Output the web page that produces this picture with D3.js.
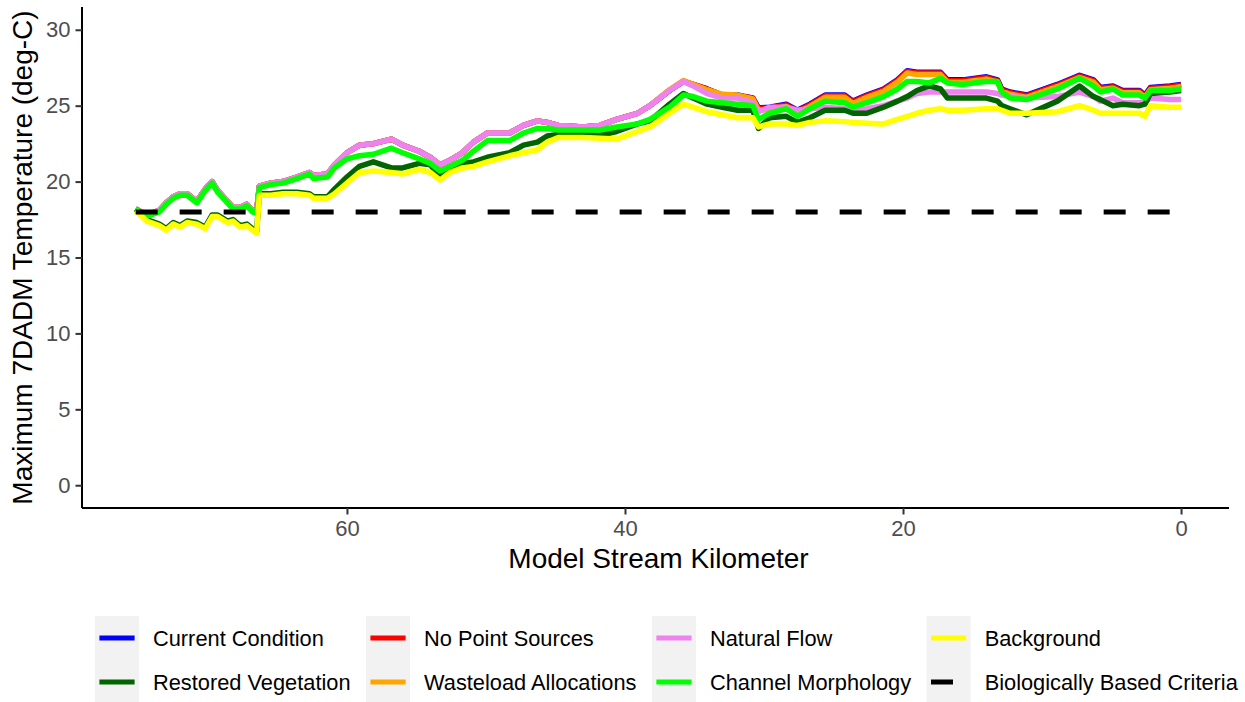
<!DOCTYPE html>
<html>
<head>
<meta charset="utf-8">
<script src="https://cdn.jsdelivr.net/npm/d3@7"></script>
<style>
  body { margin: 0; background: #fff; }
  svg { display: block; font-family: "Liberation Sans", Arial, sans-serif; }
</style>
</head>
<body>
<svg id="chart" width="1245" height="702"></svg>
<script>
// model stream kilometer (upstream -> downstream)
const km = [
  75.2, 74.4, 73.5, 73.0, 72.5, 72.0, 71.5, 70.8, 70.2, 69.7,
  69.3, 68.6, 68.2, 67.7, 67.2, 66.8, 66.5, 66.3, 65.5, 64.6,
  63.6, 62.7, 62.4, 61.4, 60.9, 60.0, 59.1, 58.1, 56.8, 56.0,
  54.8, 54.0, 53.3, 52.6, 51.7, 50.9, 49.9, 48.3, 47.3, 46.3,
  45.6, 44.8, 43.0, 41.8, 40.6, 39.1, 38.2, 36.8, 35.8, 35.1,
  34.1, 33.0, 31.9, 30.8, 30.4, 29.6, 28.4, 27.6, 26.7, 25.6,
  24.2, 23.6, 22.6, 21.4, 20.4, 19.7, 19.0, 18.1, 17.3, 16.8,
  15.7, 14.0, 13.2, 12.9, 12.3, 11.1, 8.9, 7.3, 6.3, 5.8,
  4.9, 4.2, 3.0, 2.6, 2.2, 0.8, 0.0
];

// 7DADM temperatures (deg-C) per scenario
const currentCondition = [
  18.2, 17.8, 18.1, 18.6, 19.0, 19.2, 19.2, 18.7, 19.5, 20.0,
  19.4, 18.7, 18.3, 18.3, 18.5, 18.1, 18.0, 19.7, 19.9, 20.0,
  20.3, 20.6, 20.4, 20.5, 21.1, 21.9, 22.4, 22.5, 22.8, 22.4,
  22.0, 21.6, 21.1, 21.4, 21.9, 22.6, 23.2, 23.2, 23.7, 24.0,
  23.9, 23.7, 23.6, 23.7, 24.1, 24.5, 25.0, 26.0, 26.6, 26.4,
  26.1, 25.7, 25.7, 25.5, 24.85, 24.9, 25.1, 24.7, 25.1, 25.7,
  25.7, 25.3, 25.7, 26.1, 26.7, 27.3, 27.2, 27.2, 27.2, 26.7,
  26.7, 26.9, 26.7, 26.1, 25.9, 25.7, 26.4, 27.0, 26.7, 26.2,
  26.3, 26.0, 26.0, 25.7, 26.2, 26.3, 26.4
];
const noPointSources = [
  18.2, 17.8, 18.1, 18.6, 19.0, 19.2, 19.2, 18.7, 19.5, 20.0,
  19.4, 18.7, 18.3, 18.3, 18.5, 18.1, 18.0, 19.7, 19.9, 20.0,
  20.3, 20.6, 20.4, 20.5, 21.1, 21.9, 22.4, 22.5, 22.8, 22.4,
  22.0, 21.6, 21.1, 21.4, 21.9, 22.6, 23.2, 23.2, 23.7, 24.0,
  23.9, 23.7, 23.6, 23.7, 24.1, 24.5, 25.0, 26.0, 26.6, 26.4,
  26.1, 25.7, 25.65, 25.5, 24.8, 24.85, 25.05, 24.65, 25.05, 25.65,
  25.65, 25.25, 25.65, 26.05, 26.65, 27.25, 27.15, 27.15, 27.15, 26.65,
  26.65, 26.85, 26.65, 26.05, 25.85, 25.65, 26.35, 26.95, 26.65, 26.15,
  26.25, 25.95, 25.95, 25.65, 26.15, 26.25, 26.35
];
const wasteloadAllocations = [
  18.2, 17.8, 18.1, 18.6, 19.0, 19.2, 19.2, 18.7, 19.5, 20.0,
  19.4, 18.7, 18.3, 18.3, 18.5, 18.1, 18.0, 19.7, 19.9, 20.0,
  20.3, 20.6, 20.4, 20.5, 21.1, 21.9, 22.4, 22.5, 22.8, 22.4,
  22.0, 21.6, 21.1, 21.4, 21.9, 22.6, 23.2, 23.2, 23.7, 24.0,
  23.9, 23.7, 23.6, 23.7, 24.1, 24.5, 25.0, 26.05, 26.65, 26.4,
  26.05, 25.75, 25.7, 25.45, 24.7, 24.75, 24.95, 24.55, 24.95, 25.55,
  25.55, 25.15, 25.55, 25.95, 26.55, 27.15, 27.05, 27.05, 27.05, 26.55,
  26.55, 26.75, 26.55, 25.95, 25.75, 25.55, 26.25, 26.85, 26.55, 26.05,
  26.15, 25.85, 25.85, 25.55, 26.05, 26.15, 26.25
];
const naturalFlow = [
  18.2, 17.8, 18.1, 18.6, 19.0, 19.2, 19.2, 18.7, 19.5, 20.0,
  19.4, 18.7, 18.3, 18.3, 18.5, 18.1, 18.0, 19.7, 19.9, 20.0,
  20.3, 20.6, 20.4, 20.5, 21.1, 21.9, 22.4, 22.5, 22.8, 22.4,
  22.0, 21.6, 21.1, 21.4, 21.9, 22.6, 23.2, 23.2, 23.7, 24.0,
  23.9, 23.7, 23.6, 23.7, 24.1, 24.5, 25.0, 26.0, 26.6, 26.3,
  25.8, 25.5, 25.5, 25.2, 24.6, 24.9, 24.9, 24.7, 24.8, 24.9,
  24.8, 24.7, 24.8, 25.0, 25.3, 25.5, 25.8, 25.9, 25.9, 25.9,
  25.9, 25.9, 25.8, 25.7, 25.6, 25.5, 25.6, 25.9, 25.6, 25.3,
  25.5, 25.2, 25.2, 25.2, 25.5, 25.4, 25.4
];
const restoredVegetation = [
  18.2, 17.5, 17.2, 16.9, 17.3, 17.1, 17.4, 17.3, 17.0, 17.8,
  17.8, 17.4, 17.5, 17.1, 17.2, 16.9, 16.7, 19.2, 19.2, 19.3,
  19.3, 19.2, 19.0, 19.0, 19.5, 20.3, 21.0, 21.3, 20.9, 20.9,
  21.2, 21.1, 20.3, 20.9, 21.2, 21.3, 21.6, 21.9, 22.4, 22.6,
  23.0, 23.1, 23.1, 23.05, 23.3, 23.8, 24.0, 25.1, 25.8, 25.5,
  25.1, 24.9, 24.7, 24.7, 23.5, 24.2, 24.3, 23.9, 24.2, 24.7,
  24.7, 24.5, 24.5, 24.9, 25.3, 25.6, 26.0, 26.3, 26.1, 25.5,
  25.5, 25.5, 25.3, 25.0, 24.8, 24.4, 25.3, 26.3, 25.6, 25.4,
  25.0, 25.1, 25.0, 25.1, 25.8, 25.9, 26.0
];
const channelMorphology = [
  18.2, 17.7, 18.0, 18.5, 18.9, 19.1, 19.1, 18.6, 19.4, 19.9,
  19.3, 18.6, 18.2, 18.2, 18.4, 18.0, 17.9, 19.6, 19.8, 19.9,
  20.2, 20.5, 20.2, 20.3, 20.9, 21.5, 21.7, 21.8, 22.2, 21.9,
  21.5, 21.2, 20.7, 21.0, 21.4, 22.0, 22.7, 22.7, 23.2, 23.5,
  23.5, 23.4, 23.4, 23.4, 23.6, 23.8, 24.1, 24.9, 25.7, 25.6,
  25.3, 25.2, 25.1, 25.0, 24.1, 24.5, 24.8, 24.3, 24.8, 25.3,
  25.2, 24.9, 25.2, 25.6, 26.1, 26.6, 26.6, 26.5, 26.8, 26.5,
  26.4, 26.6, 26.6, 25.9, 25.5, 25.4, 26.1, 26.8, 26.3, 25.9,
  26.1, 25.7, 25.7, 25.5, 26.0, 26.0, 26.1
];
const background = [
  18.1, 17.4, 17.1, 16.8, 17.2, 17.0, 17.3, 17.2, 16.9, 17.7,
  17.7, 17.3, 17.4, 17.0, 17.1, 16.8, 16.6, 19.1, 19.1, 19.2,
  19.2, 19.1, 18.9, 18.9, 19.2, 19.9, 20.6, 20.7, 20.6, 20.5,
  20.8, 20.6, 20.1, 20.6, 20.9, 21.0, 21.3, 21.7, 21.9, 22.1,
  22.6, 22.9, 22.9, 22.85, 22.8, 23.3, 23.6, 24.5, 25.1, 24.9,
  24.6, 24.4, 24.2, 24.2, 23.6, 23.8, 23.8, 23.7, 23.9, 24.0,
  23.95, 23.9, 23.85, 23.8, 24.1, 24.3, 24.5, 24.7, 24.8, 24.7,
  24.7, 24.8, 24.8, 24.7, 24.5, 24.5, 24.6, 25.0, 24.7, 24.5,
  24.5, 24.5, 24.5, 24.3, 25.0, 24.9, 24.9
];
const criteriaTemp = 18;

// legend order (by column) and colours
const legendNames = [
  "Current Condition", "Restored Vegetation",
  "No Point Sources", "Wasteload Allocations",
  "Natural Flow", "Channel Morphology",
  "Background", "Biologically Based Criteria"
];
const legendColors = ["#0000FF", "#006400", "#FF0000", "#FFA500", "#EE82EE", "#00FF00", "#FFFF00", "#000000"];

const xTicks = [0, 20, 40, 60];
const yTicks = [0, 5, 10, 15, 20, 25, 30];

// drawing order, bottom to top
const series = [
  { name: "Current Condition", values: currentCondition, color: "#0000FF" },
  { name: "No Point Sources", values: noPointSources, color: "#FF0000" },
  { name: "Wasteload Allocations", values: wasteloadAllocations, color: "#FFA500" },
  { name: "Natural Flow", values: naturalFlow, color: "#EE82EE" },
  { name: "Restored Vegetation", values: restoredVegetation, color: "#006400" },
  { name: "Channel Morphology", values: channelMorphology, color: "#00FF00" },
  { name: "Background", values: background, color: "#FFFF00" }
];

const svg = d3.select("#chart");
const panel = { left: 82, right: 1229, top: 7, bottom: 508 };
const lineW = 5.5;

const x = d3.scaleLinear().domain([79.06, -3.45]).range([panel.left, panel.right]);
const y = d3.scaleLinear().domain([-1.5, 31.5]).range([panel.bottom, panel.top]);

svg.append("rect").attr("width", 1245).attr("height", 702).attr("fill", "#fff");

// lines
const line = d3.line()
  .x(d => x(d[0]))
  .y(d => y(d[1]));

svg.append("g")
  .selectAll("path")
  .data(series)
  .enter()
  .append("path")
  .attr("d", s => line(km.map((k, i) => [k, s.values[i]])))
  .attr("fill", "none")
  .attr("stroke", s => s.color)
  .attr("stroke-width", lineW)
  .attr("stroke-linejoin", "round");

// criteria dashed line
svg.append("path")
  .attr("d", line([[d3.max(km), criteriaTemp], [d3.min(km), criteriaTemp]]))
  .attr("fill", "none")
  .attr("stroke", "#000")
  .attr("stroke-width", 5)
  .attr("stroke-dasharray", "22,22");

// axes
const xAxis = svg.append("g")
  .attr("transform", `translate(0,${panel.bottom})`)
  .call(d3.axisBottom(x).tickValues(xTicks).tickSize(6.5).tickPadding(6).tickFormat(d3.format("d")));
const yAxis = svg.append("g")
  .attr("transform", `translate(${panel.left},0)`)
  .call(d3.axisLeft(y).tickValues(yTicks).tickSize(6.5).tickPadding(5).tickFormat(d3.format("d")));

[xAxis, yAxis].forEach(g => {
  g.select(".domain").attr("stroke", "#000").attr("stroke-width", 2);
  g.selectAll(".tick line").attr("stroke", "#333").attr("stroke-width", 2);
  g.selectAll(".tick text")
    .attr("fill", "#4D4D4D")
    .style("font-size", "22px")
    .style("font-family", "'Liberation Sans', Arial, sans-serif");
});
xAxis.select(".domain").attr("d", `M${panel.left},0H${panel.right}`);
yAxis.select(".domain").attr("d", `M0,${panel.top}V${panel.bottom}`);

// axis titles
svg.append("text")
  .attr("x", (panel.left + panel.right) / 2 + 3)
  .attr("y", 568)
  .attr("text-anchor", "middle")
  .style("font-size", "28px")
  .text("Model Stream Kilometer");

svg.append("text")
  .attr("transform", `translate(32,${(panel.top + panel.bottom) / 2}) rotate(-90)`)
  .attr("text-anchor", "middle")
  .style("font-size", "28px")
  .text("Maximum 7DADM Temperature (deg-C)");

// legend: 4 columns x 2 rows
const keySize = 44;
const legendTop = 616;
const legend = svg.append("g");
let colX = 95;
for (let c = 0; c < 4; c++) {
  const items = legendNames.slice(c * 2, c * 2 + 2);
  let maxW = 0;
  items.forEach((name, r) => {
    const idx = c * 2 + r;
    const gy = legendTop + r * keySize;
    legend.append("rect")
      .attr("x", colX).attr("y", gy)
      .attr("width", keySize).attr("height", keySize)
      .attr("fill", "#F2F2F2");
    const seg = legend.append("line")
      .attr("x1", colX + keySize * 0.1).attr("x2", colX + keySize * 0.9)
      .attr("y1", gy + keySize / 2).attr("y2", gy + keySize / 2)
      .attr("stroke", legendColors[idx])
      .attr("stroke-width", 5);
    if (name === "Biologically Based Criteria") seg.attr("stroke-dasharray", "22,22");
    const t = legend.append("text")
      .attr("x", colX + keySize + 14)
      .attr("y", gy + keySize / 2)
      .attr("dy", "0.35em")
      .style("font-size", "21.8px")
      .text(name);
    maxW = Math.max(maxW, t.node().getComputedTextLength());
  });
  colX += keySize + 14 + maxW + 15.5;
}
</script>
</body>
</html>
